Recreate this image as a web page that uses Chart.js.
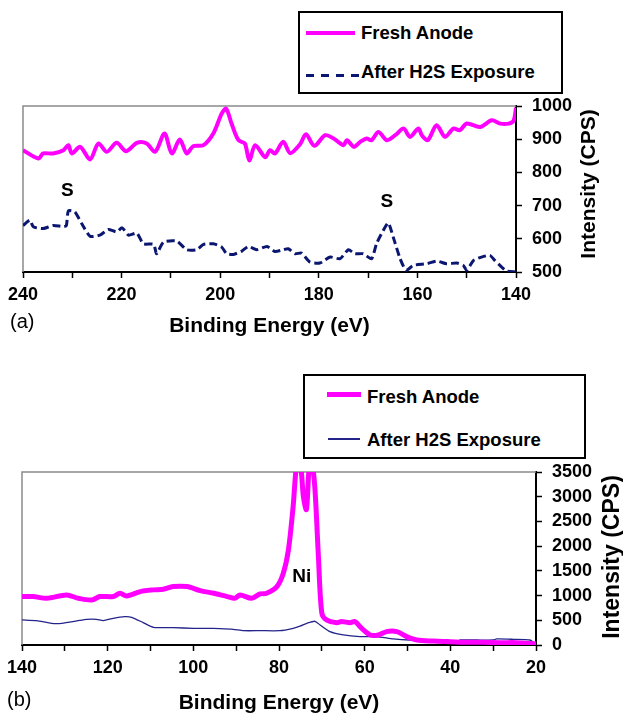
<!DOCTYPE html>
<html>
<head>
<meta charset="utf-8">
<script src="https://cdn.jsdelivr.net/npm/chart.js@4.4.1/dist/chart.umd.min.js"></script>
<style>
  html, body { margin: 0; padding: 0; background: #fff; overflow: hidden; }
  #page { position: relative; width: 623px; height: 713px; font-family: "Liberation Sans", Arial, sans-serif; }
  canvas { position: absolute; left: 0; }
  #cTop { top: 0; }
  #cBot { top: 340px; }
  .legend { position: absolute; border: 2px solid #000; background: #fff; box-sizing: border-box; z-index: 2; }
  .legend .txt { position: absolute; font-weight: bold; font-size: 18.5px; line-height: 20px; white-space: nowrap; color: #000; }
  .legend .smp { position: absolute; }
</style>
</head>
<body>
<div id="page">
  <canvas id="cTop" width="623" height="340"></canvas>
  <canvas id="cBot" width="623" height="373"></canvas>

  <div class="legend" style="left:298px;top:11px;width:265px;height:83px;">
    <div class="smp" style="left:6px;top:18px;width:49px;height:4px;background:#ff00ff;"></div>
    <div class="txt" style="left:61px;top:10px;">Fresh Anode</div>
    <div class="smp" style="left:6px;top:61px;width:54px;height:3px;background:repeating-linear-gradient(to right,#0b1670 0 8px,transparent 8px 15px);"></div>
    <div class="txt" style="left:61px;top:49px;">After H2S Exposure</div>
  </div>

  <div class="legend" style="left:303px;top:374px;width:283px;height:85px;">
    <div class="smp" style="left:22px;top:16px;width:34px;height:5px;background:#ff00ff;"></div>
    <div class="txt" style="left:62px;top:11px;">Fresh Anode</div>
    <div class="smp" style="left:23px;top:62px;width:32px;height:1.5px;background:#24248a;"></div>
    <div class="txt" style="left:62px;top:54px;">After H2S Exposure</div>
  </div>
</div>

<script>
// ---- (a) S 2p region ----
const freshTopE = [240, 236.9, 235.9, 233.9, 231.8, 230.8, 230.1, 228.4, 226.4, 224.7, 223.0, 221.0, 219.1, 216.9,
  214.9, 213.2, 211.3, 209.8, 208.2, 206.8, 205.5, 203.4, 201.4, 199.7, 198.8, 197.7, 196.3, 195.0, 194.1, 192.9,
  190.9, 189.9, 188.9, 187.2, 185.8, 183.8, 182.6, 180.9, 178.7, 177.0, 175.0, 174.3, 172.9, 171.6, 170.3, 169.3,
  167.9, 166.2, 164.5, 162.8, 161.5, 159.8, 159.1, 157.9, 156.1, 154.4, 152.7, 151.4, 150.0, 147.3, 144.9, 143.2,
  141.5, 140.5, 140.0];
const freshTopI = [867, 842, 857, 857, 867, 882, 857, 877, 839, 887, 862, 889, 864, 889,
  887, 862, 917, 857, 899, 857, 879, 882, 917, 977, 992, 947, 897, 887, 836, 882,
  846, 867, 857, 892, 858, 885, 915, 880, 912, 902, 882, 897, 877, 892, 902, 897,
  922, 897, 912, 932, 907, 932, 912, 897, 942, 907, 932, 927, 947, 937, 957, 947,
  947, 955, 995];

const afterTopE = [240, 238.6, 237.9, 235.9, 233.9, 231.8, 231.2, 230.8, 229.5, 228.1, 226.4, 224.4, 222.7, 221.0,
  219.9, 218.6, 216.9, 215.6, 213.5, 212.9, 211.5, 208.8, 206.8, 204.8, 203.4, 201.4, 199.7, 198.7, 197.3, 195.6,
  194.3, 192.6, 190.5, 188.9, 187.2, 186.2, 184.8, 183.5, 181.8, 179.8, 177.7, 175.7, 174.0, 172.7, 171.0, 169.3,
  168.3, 166.9, 165.9, 164.9, 163.5, 162.3, 160.8, 158.1, 156.1, 154.1, 152.0, 150.7, 150.0, 148.6, 147.0, 145.3,
  144.3, 142.9, 141.9, 140.0];
const afterTopI = [640, 656, 636, 631, 640, 637, 640, 684, 681, 646, 608, 611, 628, 621,
  633, 611, 617, 585, 583, 555, 590, 593, 567, 567, 583, 585, 575, 555, 553, 563,
  577, 567, 577, 562, 567, 570, 555, 557, 530, 527, 545, 540, 567, 555, 555, 540,
  585, 626, 648, 605, 540, 505, 520, 525, 533, 525, 527, 520, 505, 535, 545, 550,
  535, 515, 503, 500];

// ---- (b) Ni 3p / valence region ----
const freshBotE = [140, 137.4, 134.2, 129.6, 126.9, 123.7, 121.8, 118.7, 117.1, 115.6, 112.4, 109.3, 107.0, 104.7,
  101.5, 98.4, 95.2, 92.1, 90.3, 89.1, 86.4, 84.4, 82.9, 80.5, 79.0, 77.8, 76.7, 75.8, 75.0, 74.3, 73.6,
  72.9, 72.3, 71.6, 70.8, 70.0, 68.9, 66.5, 65.4, 63.4, 62.3, 60.7, 58.7, 56.8, 54.9, 52.5, 50.2, 47.8,
  44.0, 40.1, 36.2, 32.3, 28.4, 24.5, 20.0];
const freshBotI = [980, 980, 946, 1013, 946, 912, 980, 980, 1047, 993, 1081, 1115, 1128, 1182,
  1182, 1101, 1047, 980, 946, 1013, 946, 1034, 1047, 1182, 1453, 1926, 2803, 3700, 3650, 3000, 2740,
  3650, 3700, 3142, 1790, 642, 507, 452, 473, 452, 473, 338, 203, 203, 270, 270, 169, 101,
  80, 68, 54, 54, 47, 47, 20];

const afterBotE = [140, 136.6, 133.1, 130.7, 127.2, 124.9, 122.6, 121.0, 118.7, 116.0, 114.4, 111.7, 109.3, 104.7,
  100.0, 96.9, 93.8, 90.7, 88.3, 84.4, 79.8, 76.7, 75.1, 73.5, 71.6, 70.4, 68.1, 65.0, 61.1, 57.2, 53.3,
  49.4, 45.5, 40.8, 38.5, 37.7, 33.8, 30.0, 29.2, 25.3, 21.4, 20.3];
const afterBotI = [507, 493, 439, 439, 486, 520, 520, 493, 540, 574, 560, 453, 358, 351,
  338, 338, 331, 317, 290, 290, 290, 338, 380, 439, 480, 405, 270, 203, 169, 169, 122,
  101, 101, 101, 68, 101, 101, 101, 122, 115, 101, 34];

// peak annotations, in data units (eV, CPS)
const notesTop = [{ text: 'S', e: 231, v: 746 }, { text: 'S', e: 166.2, v: 711 }];
const notesBot = [{ text: 'Ni', e: 74.7, v: 1384 }];

const FONT = '"Liberation Sans", Arial, sans-serif';
const pts = (xs, ys) => xs.map((x, i) => ({ x, y: ys[i] }));

function decoPlugin(cfg) {
  return {
    id: 'deco',
    beforeDatasetsDraw(chart) {
      const { ctx, chartArea: a } = chart;
      ctx.save();
      ctx.strokeStyle = '#8a8a8a';
      ctx.lineWidth = 1.5;
      ctx.beginPath();
      ctx.moveTo(a.left, a.bottom);
      ctx.lineTo(a.left, a.top);
      ctx.lineTo(a.right, a.top);
      ctx.stroke();
      ctx.restore();
    },
    afterDraw(chart) {
      const { ctx } = chart;
      const xs = chart.scales.x, ys = chart.scales.y;
      ctx.save();
      ctx.fillStyle = '#000';
      ctx.textAlign = 'center';
      ctx.textBaseline = 'middle';
      ctx.font = `bold 19px ${FONT}`;
      cfg.notes.forEach(n => ctx.fillText(n.text, xs.getPixelForValue(n.e), ys.getPixelForValue(n.v)));

      ctx.font = `20px ${FONT}`;
      ctx.textAlign = 'left';
      ctx.fillText(cfg.panel, cfg.panelX, cfg.panelY);

      ctx.font = `bold ${cfg.yTitleSize}px ${FONT}`;
      ctx.textAlign = 'center';
      ctx.translate(cfg.yTitleX, cfg.yTitleY);
      ctx.rotate(-Math.PI / 2);
      ctx.fillText('Intensity (CPS)', 0, 0);
      ctx.restore();
    }
  };
}

function makeChart(id, o) {
  const canvas = document.getElementById(id);
  const H = canvas.height;
  return new Chart(canvas.getContext('2d'), {
    type: 'line',
    data: { datasets: o.datasets },
    options: {
      responsive: false,
      animation: false,
      devicePixelRatio: 1,
      layout: { padding: { left: o.left, top: o.top, right: 0, bottom: 0 } },
      plugins: { legend: { display: false }, tooltip: { enabled: false } },
      elements: { point: { radius: 0 } },
      scales: {
        x: {
          type: 'linear',
          reverse: true,
          min: o.xMin, max: o.xMax,
          afterFit: s => { s.height = H - o.bottom; },
          border: { display: true, color: '#000', width: 2 },
          grid: { drawOnChartArea: false, drawTicks: true, tickLength: 6, tickColor: '#000', tickWidth: 1.5 },
          ticks: {
            stepSize: 10, autoSkip: false, maxRotation: 0, padding: 6, color: '#000',
            font: { family: FONT, size: 18, weight: 'bold' },
            callback: v => (v % 20 === 0 ? String(v) : '')
          },
          title: {
            display: true, text: 'Binding Energy (eV)', color: '#000',
            font: { family: FONT, size: 21, weight: 'bold' },
            padding: { top: 0, bottom: o.xTitlePad }
          }
        },
        y: {
          position: 'right',
          min: o.yMin, max: o.yMax,
          afterFit: s => { s.width = 623 - o.right; },
          border: { display: true, color: '#000', width: 2 },
          grid: { drawOnChartArea: false, drawTicks: true, tickLength: 6, tickColor: '#000', tickWidth: 1.5 },
          ticks: {
            stepSize: o.yStep, padding: 10, color: '#000',
            font: { family: FONT, size: 18, weight: 'bold' },
            callback: v => String(v)
          }
        }
      }
    },
    plugins: [decoPlugin(o.deco)]
  });
}

makeChart('cTop', {
  left: 23, top: 106, right: 516, bottom: 272,
  xMin: 140, xMax: 240, yMin: 500, yMax: 1000, yStep: 100, xTitlePad: 1,
  datasets: [
    { label: 'Fresh Anode', data: pts(freshTopE, freshTopI), borderColor: '#ff00ff', borderWidth: 4,
      tension: 0.3, clip: 0 },
    { label: 'After H2S Exposure', data: pts(afterTopE, afterTopI), borderColor: '#0b1670', borderWidth: 3,
      borderDash: [8, 4], tension: 0.2, clip: 0 }
  ],
  deco: { notes: notesTop, panel: '(a)', panelX: 10, panelY: 322, yTitleX: 589, yTitleY: 184, yTitleSize: 21 }
});

makeChart('cBot', {
  left: 22, top: 132, right: 536, bottom: 305,
  xMin: 20, xMax: 140, yMin: 0, yMax: 3500, yStep: 500, xTitlePad: -2.6,
  datasets: [
    { label: 'Fresh Anode', data: pts(freshBotE, freshBotI), borderColor: '#ff00ff', borderWidth: 5,
      tension: 0.3, clip: 0 },
    { label: 'After H2S Exposure', data: pts(afterBotE, afterBotI), borderColor: '#24248a', borderWidth: 1.3,
      tension: 0.2, clip: 0 }
  ],
  deco: { notes: notesBot, panel: '(b)', panelX: 7, panelY: 360, yTitleX: 613, yTitleY: 217, yTitleSize: 23 }
});
</script>
</body>
</html>
